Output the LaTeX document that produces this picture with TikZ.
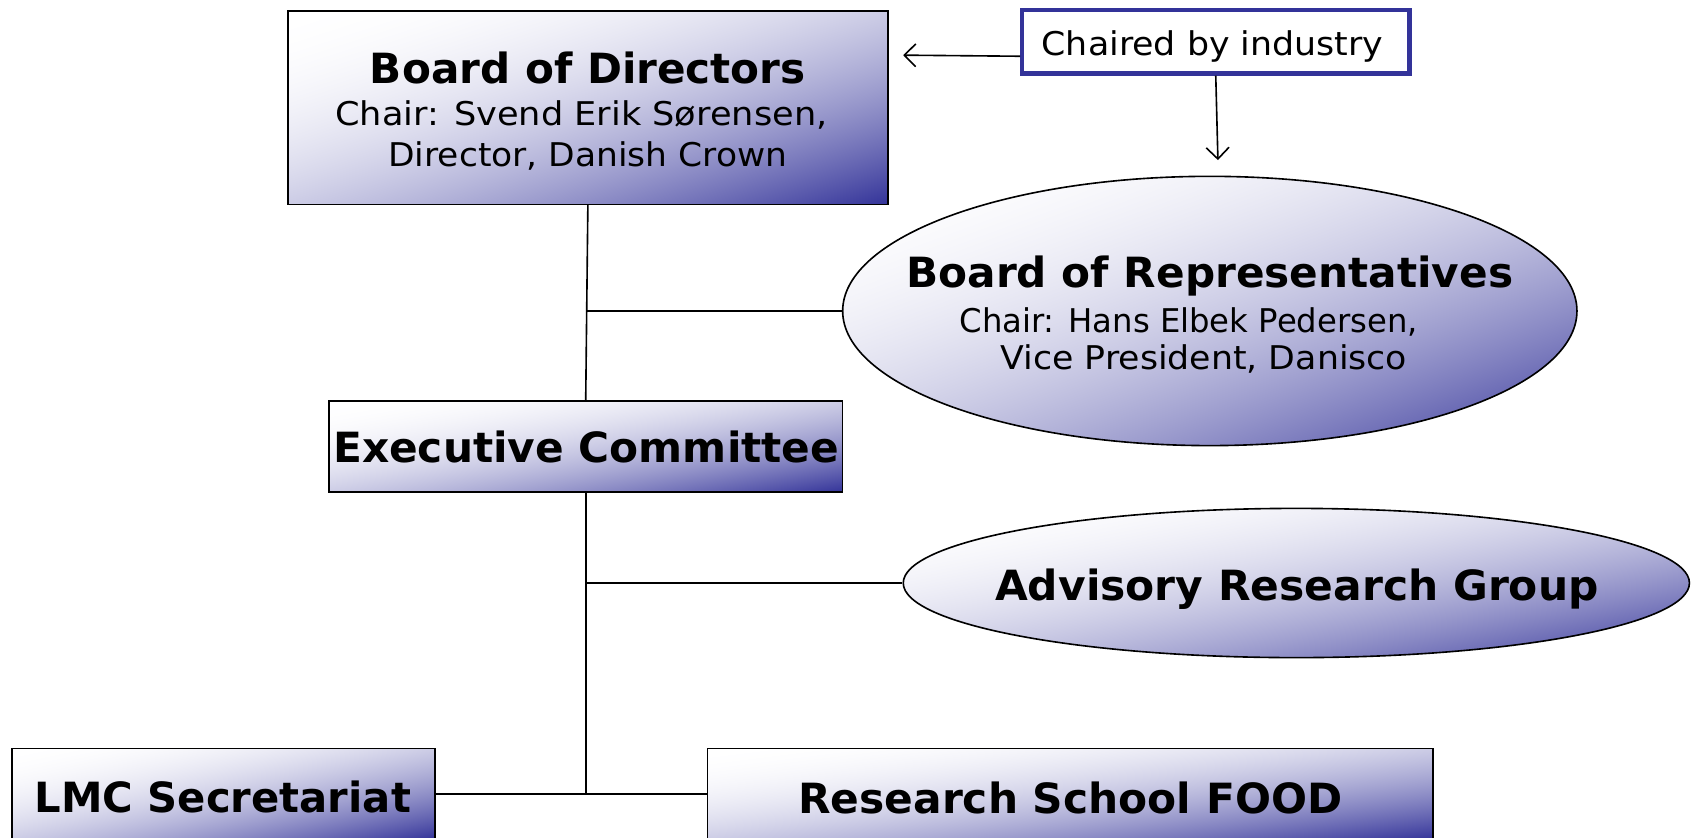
\documentclass[tikz,border=0pt]{standalone}
\usepackage{fontspec}
\setmainfont{DejaVu Sans}
\usetikzlibrary{arrows.meta,shapes.geometric}
\definecolor{gdark}{RGB}{51,51,153}
% corner-to-corner gradient: white at top left, dark blue at bottom right
\pgfdeclarefunctionalshading{cornergrad}{\pgfpoint{0bp}{0bp}}{\pgfpoint{100bp}{100bp}}{}{
  sub 50 add 100 div
  dup 0 lt {pop 0} if
  dup 1 gt {pop 1} if
  dup mul
  dup 0.8 mul 1 exch sub
  exch 0.4 mul 1 exch sub
  exch dup 3 -1 roll
}
\newcommand\fitto[2]{\resizebox{#1}{\height}{#2}}
\begin{document}
\begin{tikzpicture}[x=0.02cm,y=-0.02cm,
  gbox/.style={draw=black, line width=0.85pt, shade, shading=cornergrad, inner sep=0pt},
  gell/.style={gbox, ellipse},
  ttl/.style={anchor=base, inner sep=0pt, font=\fontsize{21.9}{26}\selectfont\bfseries},
  sub/.style={anchor=base, inner sep=0pt, font=\fontsize{17.2}{20}\selectfont},
  conn/.style={draw=black, line width=0.85pt},
  arr/.style={conn, -{Straight Barb[length=6pt,width=12pt,line width=0.85pt]}},
  note/.style={draw=gdark, line width=2.3pt, fill=white, inner sep=0pt}]
\useasboundingbox (0,0) rectangle (1568,774);
% shapes
\node[gbox, minimum width=11.1cm, minimum height=3.58cm] (bod) at (543.5,99.5) {};
\node[note, minimum width=7.16cm, minimum height=1.18cm] (ch) at (1124,38.5) {};
\node[gell, minimum width=13.58cm, minimum height=4.98cm] (bor) at (1118.5,287.5) {};
\node[gbox, minimum width=9.5cm, minimum height=1.68cm] (ec) at (541.5,413) {};
\node[gell, minimum width=14.54cm, minimum height=2.76cm] (arg) at (1198.5,539) {};
\node[gbox, minimum width=7.82cm, minimum height=1.68cm] (lmc) at (206.5,734) {};
\node[gbox, minimum width=13.42cm, minimum height=1.68cm] (rsf) at (989.5,734) {};
% junctions
\coordinate (j1) at (543,287.5);
\coordinate (j2) at (541.5,539);
\coordinate (j3) at (541.5,734);
\coordinate (a1) at (835,51);
\coordinate (a2) at (1126,148);
% connectors
\draw[conn] (bod.south) -- (ec.north);
\draw[conn] (j1) -- (bor.west);
\draw[conn] (ec.south) -- (j3);
\draw[conn] (j2) -- (arg.west);
\draw[conn] (lmc.east) -- (rsf.west);
\draw[arr] ([yshift=-0.27cm]ch.west) -- (a1);
\draw[arr] (ch.south) -- (a2);
% texts
\node[ttl] (bodT) at (543.5,77) {\fitto{8.06cm}{Board of Directors}};
\node[sub] (bodS1) at (537.5,116) {\fitto{9.10cm}{Chair: Svend Erik Sørensen,}};
\node[sub] (bodS2) at (543.5,154) {\fitto{7.38cm}{Director, Danish Crown}};
\node[sub] (chT) at (1121,51) {\fitto{6.32cm}{Chaired by industry}};
\node[ttl] (borT) at (1118.5,266) {\fitto{11.22cm}{Board of Representatives}};
\node[sub] (borS1) at (1099,307) {\fitto{8.48cm}{Chair: Hans Elbek Pedersen,}};
\node[sub] (borS2) at (1113,342) {\fitto{7.52cm}{Vice President, Danisco}};
\node[ttl] (ecT) at (542,428) {\fitto{9.36cm}{Executive Committee}};
\node[ttl] (argT) at (1199,555) {\fitto{11.16cm}{Advisory Research Group}};
\node[ttl] (lmcT) at (206,751) {\fitto{6.96cm}{LMC Secretariat}};
\node[ttl] (rsfT) at (989.5,752) {\fitto{10.06cm}{Research School FOOD}};
\end{tikzpicture}
\end{document}
